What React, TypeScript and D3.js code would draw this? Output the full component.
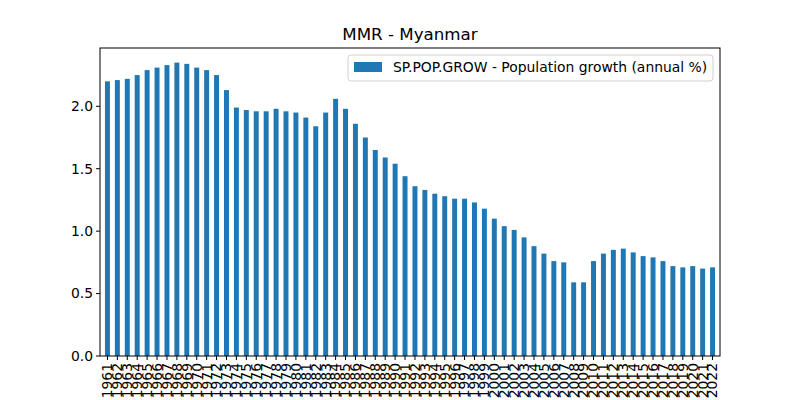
import React from "react";
import * as d3 from "d3";

const years = d3.range(1961, 2023).map(String);
const values = [2.20,2.21,2.22,2.25,2.29,2.31,2.33,2.35,2.34,2.31,2.29,2.25,2.13,1.99,1.97,1.96,1.96,1.98,1.96,1.95,1.91,1.84,1.95,2.06,1.98,1.86,1.75,1.65,1.59,1.54,1.44,1.36,1.33,1.30,1.28,1.26,1.26,1.23,1.18,1.10,1.04,1.01,0.95,0.88,0.82,0.76,0.75,0.59,0.59,0.76,0.82,0.85,0.86,0.83,0.80,0.79,0.76,0.72,0.71,0.72,0.70,0.71];
const yTicks = [0, 0.5, 1.0, 1.5, 2.0];

export default function App() {
  const L = 100, R = 720, T = 48, B = 356;
  const x = d3.scaleBand().domain(years).range([L, R]).padding(0.5);
  const y = d3.scaleLinear().domain([0, 2.467]).range([B, T]);
  const font = "DejaVu Sans, sans-serif";
  return (
    <svg width={800} height={400} style={{ position: "absolute", left: 0, top: 0 }} fontFamily={font}>
      <rect width={800} height={400} fill="white" />
      <text x={410} y={40} textAnchor="middle" fontSize={16.7}>MMR - Myanmar</text>
      {years.map((yr, i) => (
        <rect key={yr} x={x(yr)} y={y(values[i])} width={x.bandwidth()} height={B - y(values[i])} fill="#1f77b4" />
      ))}
      <rect x={L} y={T} width={R - L} height={B - T} fill="none" stroke="black" strokeWidth={1} />
      {yTicks.map(t => (
        <g key={t}>
          <line x1={L - 4} x2={L} y1={y(t)} y2={y(t)} stroke="black" />
          <text x={L - 7} y={y(t)} dy="0.35em" textAnchor="end" fontSize={13.9}>{t.toFixed(1)}</text>
        </g>
      ))}
      {years.map(yr => {
        const cx = x(yr)! + x.bandwidth() / 2;
        return (
          <g key={yr}>
            <line x1={cx} x2={cx} y1={B} y2={B + 4} stroke="black" />
            <text transform={`translate(${cx},${B + 7}) rotate(-90)`} dy="0.35em" textAnchor="end" fontSize={13.9}>{yr}</text>
          </g>
        );
      })}
      <g>
        <rect x={348} y={55} width={365} height={26} rx={3} fill="white" stroke="#ccc" opacity={0.9} />
        <rect x={354} y={62} width={28} height={10} fill="#1f77b4" />
        <text x={393} y={67} dy="0.35em" fontSize={13.9}>SP.POP.GROW - Population growth (annual %)</text>
      </g>
    </svg>
  );
}
